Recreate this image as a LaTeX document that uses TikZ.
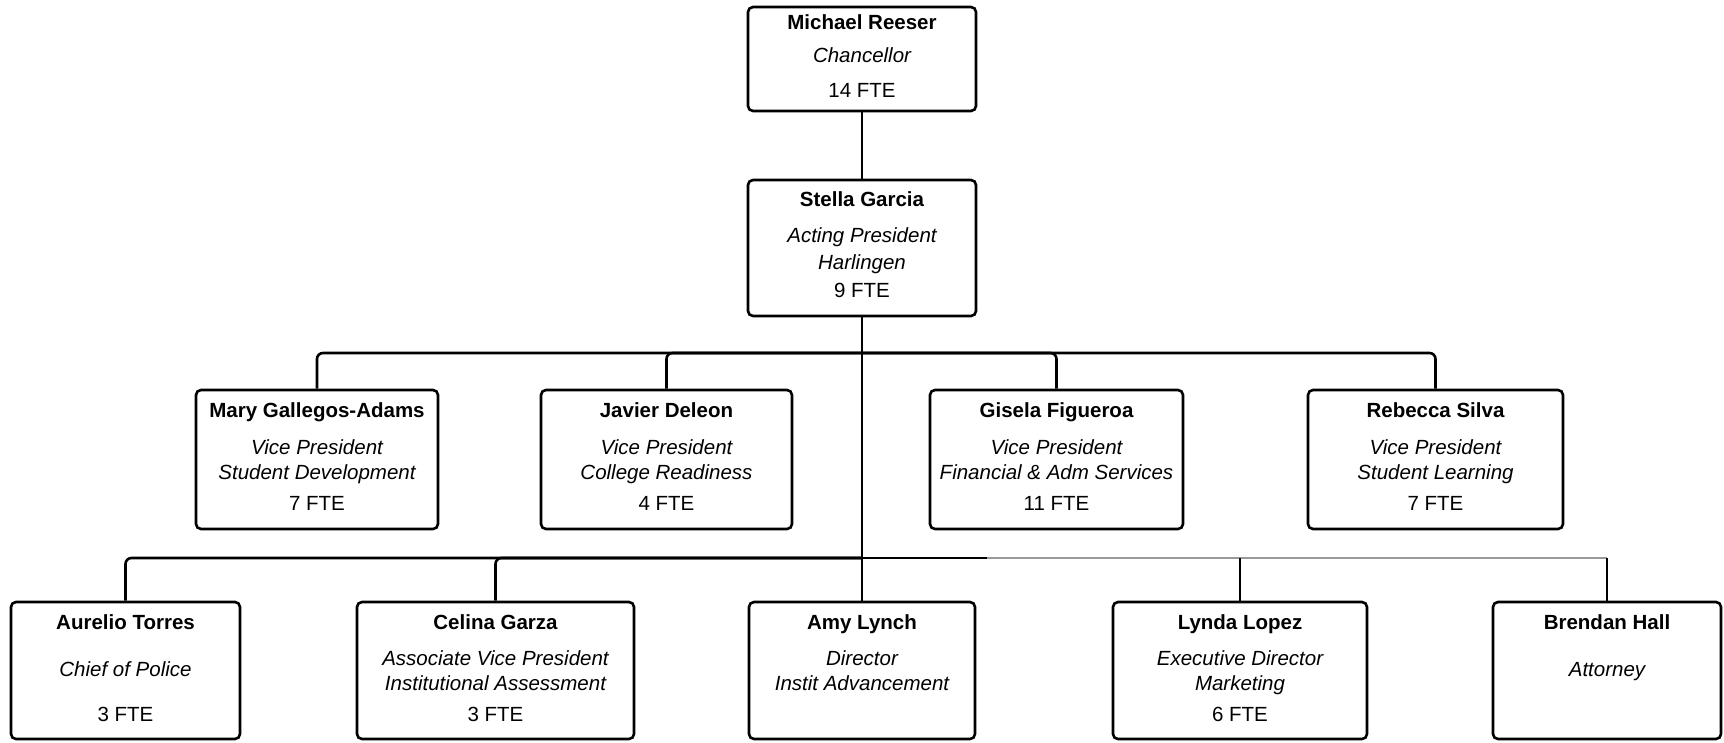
\documentclass[tikz,border=0pt]{standalone}
\usepackage{fontspec}
\setmainfont{Liberation Sans}
\begin{document}
\begin{tikzpicture}[x=1pt,y=-1pt,
  box/.style={draw=black, line width=2.6pt, rounded corners=5pt, inner sep=0pt, fill=white},
  nm/.style={font=\fontsize{20.5}{24}\selectfont\bfseries, anchor=base, inner sep=0pt},
  rl/.style={font=\fontsize{20.5}{24}\selectfont\itshape, anchor=base, inner sep=0pt},
  fte/.style={font=\fontsize{20.5}{24}\selectfont, anchor=base, inner sep=0pt},
  conn/.style={draw=black, line width=2.6pt},
  faint/.style={draw=black!40, line width=2pt}]
\useasboundingbox (0,0) rectangle (1724,742);

% boxes
\node[box, minimum width=228pt, minimum height=104pt] (mr) at (862,59) {};
\node[box, minimum width=228pt, minimum height=136pt] (sg) at (862,248) {};
\node[box, minimum width=242pt, minimum height=139pt] (mga) at (317,459.5) {};
\node[box, minimum width=251pt, minimum height=139pt] (jd) at (666.5,459.5) {};
\node[box, minimum width=253pt, minimum height=139pt] (gf) at (1056.5,459.5) {};
\node[box, minimum width=255pt, minimum height=139pt] (rs) at (1435.5,459.5) {};
\node[box, minimum width=229pt, minimum height=137pt] (at) at (125.5,670.5) {};
\node[box, minimum width=277pt, minimum height=137pt] (cg) at (495.5,670.5) {};
\node[box, minimum width=226pt, minimum height=137pt] (al) at (862,670.5) {};
\node[box, minimum width=254pt, minimum height=137pt] (ll) at (1240,670.5) {};
\node[box, minimum width=228pt, minimum height=137pt] (bh) at (1607,670.5) {};

% connectors
\coordinate (b1) at (862,353);
\coordinate (b2) at (862,558);
\coordinate (gs) at (987,558);
\draw[conn] (mr.south) -- (sg.north);
\draw[conn] (sg.south) -- (b1) -- (b2) -- (al.north);
\draw[conn, rounded corners=6pt] (b1) -| (mga.north);
\draw[conn, rounded corners=6pt] (b1) -| (jd.north);
\draw[conn, rounded corners=6pt] (b1) -| (gf.north);
\draw[conn, rounded corners=6pt] (b1) -| (rs.north);
\draw[conn, rounded corners=6pt] (b2) -| (at.north);
\draw[conn, rounded corners=6pt] (b2) -| (cg.north);
\draw[conn] (b2) -- (gs);
\draw[faint] (gs) -- (bh.north |- b2);
\draw[conn] (ll.north |- b2) -- (ll.north);
\draw[conn] (bh.north |- b2) -- (bh.north);

% texts
\node[nm] (mr1) at (862,29.5) {Michael Reeser};
\node[rl] (mr2) at (862,62.5) {Chancellor};
\node[fte] (mr3) at (862,97.5) {14 FTE};

\node[nm] (sg1) at (862,206.5) {Stella Garcia};
\node[rl] (sg2) at (862,242.5) {Acting President};
\node[rl] (sg3) at (862,269.5) {Harlingen};
\node[fte] (sg4) at (862,297.5) {9 FTE};

\node[nm] (mga1) at (317,417.5) {Mary Gallegos-Adams};
\node[rl] (mga2) at (317,454) {Vice President};
\node[rl] (mga3) at (317,479) {Student Development};
\node[fte] (mga4) at (317,510) {7 FTE};

\node[nm] (jd1) at (666.5,417.5) {Javier Deleon};
\node[rl] (jd2) at (666.5,454) {Vice President};
\node[rl] (jd3) at (666.5,479) {College Readiness};
\node[fte] (jd4) at (666.5,510) {4 FTE};

\node[nm] (gf1) at (1056.5,417.5) {Gisela Figueroa};
\node[rl] (gf2) at (1056.5,454) {Vice President};
\node[rl] (gf3) at (1056.5,479) {Financial \& Adm Services};
\node[fte] (gf4) at (1056.5,510) {11 FTE};

\node[nm] (rs1) at (1435.5,417.5) {Rebecca Silva};
\node[rl] (rs2) at (1435.5,454) {Vice President};
\node[rl] (rs3) at (1435.5,479) {Student Learning};
\node[fte] (rs4) at (1435.5,510) {7 FTE};

\node[nm] (at1) at (125.5,629.5) {Aurelio Torres};
\node[rl] (at2) at (125.5,676) {Chief of Police};
\node[fte] (at3) at (125.5,721) {3 FTE};

\node[nm] (cg1) at (495.5,629.5) {Celina Garza};
\node[rl] (cg2) at (495.5,665) {Associate Vice President};
\node[rl] (cg3) at (495.5,690.5) {Institutional Assessment};
\node[fte] (cg4) at (495.5,721) {3 FTE};

\node[nm] (al1) at (862,629.5) {Amy Lynch};
\node[rl] (al2) at (862,665) {Director};
\node[rl] (al3) at (862,690.5) {Instit Advancement};

\node[nm] (ll1) at (1240,629.5) {Lynda Lopez};
\node[rl] (ll2) at (1240,665) {Executive Director};
\node[rl] (ll3) at (1240,690.5) {Marketing};
\node[fte] (ll4) at (1240,721) {6 FTE};

\node[nm] (bh1) at (1607,629.5) {Brendan Hall};
\node[rl] (bh2) at (1607,676) {Attorney};
\end{tikzpicture}
\end{document}
